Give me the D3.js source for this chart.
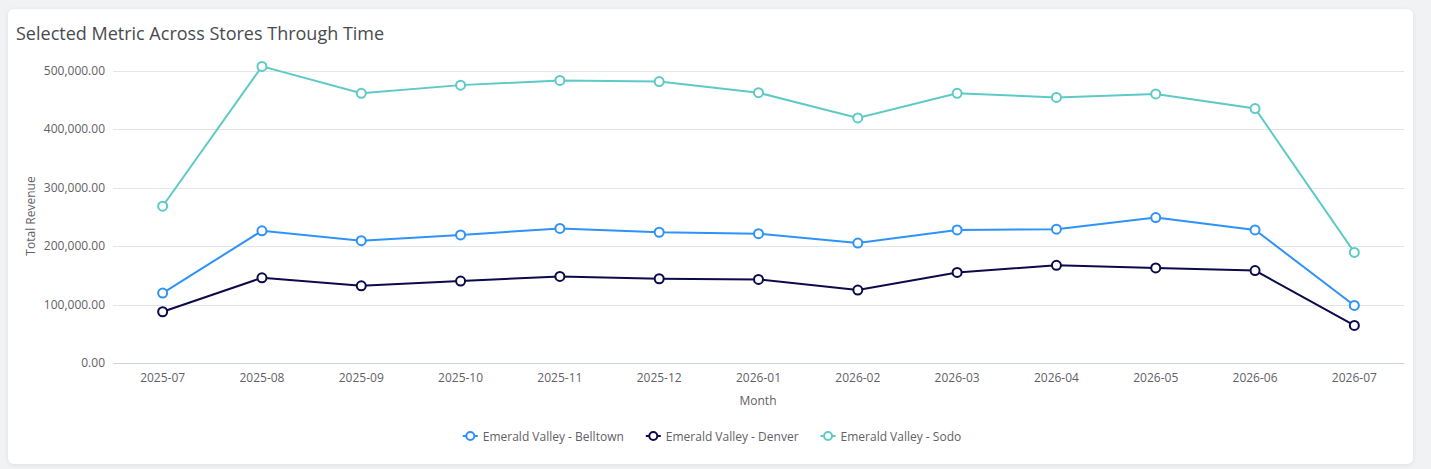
<!DOCTYPE html>
<html>
<head>
<meta charset="utf-8">
<script src="https://cdn.jsdelivr.net/npm/d3@7/dist/d3.min.js"></script>
<style>
  html, body { margin: 0; padding: 0; background: #f1f2f4; }
  svg { display: block; font-family: "Open Sans", sans-serif; }
</style>
</head>
<body>
<svg id="chart" width="1431" height="469"></svg>
<script>
const months = ["2025-07","2025-08","2025-09","2025-10","2025-11","2025-12","2026-01","2026-02","2026-03","2026-04","2026-05","2026-06","2026-07"];
const seriesNames = ["Emerald Valley - Belltown","Emerald Valley - Denver","Emerald Valley - Sodo"];
const belltown = [119500, 226000, 209000, 219000, 230000, 223500, 221000, 205000, 227500, 228700, 248600, 227500, 98400];
const denver   = [87600, 145600, 132000, 140000, 148000, 144000, 142800, 124600, 154800, 167000, 162600, 158000, 64300];
const sodo     = [268000, 507000, 461000, 475000, 483000, 481000, 462000, 419000, 461000, 454000, 460000, 435000, 189000];
const yTicks = [0, 100000, 200000, 300000, 400000, 500000];
const colors = ["#2e93f7", "#0b0a4a", "#5ecac6"];

const svg = d3.select("#chart");
const W = 1431, H = 469;

// card
svg.append("defs").append("filter").attr("id","sh").attr("x","-5%").attr("y","-5%").attr("width","110%").attr("height","110%")
  .append("feDropShadow").attr("dx",0).attr("dy",1).attr("stdDeviation",2).attr("flood-color","#000").attr("flood-opacity",0.08);
svg.append("rect").attr("x",8).attr("y",9).attr("width",1405).attr("height",455).attr("rx",6)
  .attr("fill","#fff").attr("filter","url(#sh)");

svg.append("text").attr("x",16).attr("y",40).attr("font-size",18).attr("fill","#474b50").text("Selected Metric Across Stores Through Time");

const x = d3.scaleBand().domain(months).range([113, 1404]);
const y = d3.scaleLinear().domain([0, 500000]).range([363, 70.5]);
const fmt = d3.format(",.2f");

// grid
svg.append("g").selectAll("line").data(yTicks.filter(d => d > 0)).join("line")
  .attr("x1",113).attr("x2",1404).attr("y1",d=>Math.round(y(d))+0.5).attr("y2",d=>Math.round(y(d))+0.5)
  .attr("stroke","#e3e5e8").attr("stroke-width",1);

// y axis
const yAxis = svg.append("g").attr("transform","translate(113,0)")
  .call(d3.axisLeft(y).tickValues(yTicks).tickFormat(fmt).tickSize(0).tickPadding(8));
yAxis.select(".domain").remove();
yAxis.selectAll("text").attr("font-size",12).attr("fill","#5f6166").attr("font-family","Open Sans, sans-serif");

// x axis
const xAxis = svg.append("g").attr("transform","translate(0,363)")
  .call(d3.axisBottom(x).tickSize(0).tickPadding(10));
xAxis.select(".domain").attr("stroke","#ccd2dc");
xAxis.selectAll("text").attr("font-size",12).attr("fill","#5f6166").attr("font-family","Open Sans, sans-serif");

svg.append("text").attr("x",758).attr("y",405).attr("text-anchor","middle").attr("font-size",12).attr("fill","#5f6166").text("Month");
svg.append("text").attr("transform","translate(35,216) rotate(-90)").attr("text-anchor","middle").attr("font-size",12).attr("fill","#5f6166").text("Total Revenue");

const all = [belltown, denver, sodo];
const cx = d => x(d) + x.bandwidth()/2;
const line = d3.line().x((d,i)=>cx(months[i])).y(d=>y(d));

all.forEach((vals, si) => {
  const g = svg.append("g");
  g.append("path").datum(vals).attr("d", line).attr("fill","none").attr("stroke",colors[si]).attr("stroke-width",2);
  g.selectAll("circle").data(vals).join("circle")
    .attr("cx",(d,i)=>cx(months[i])).attr("cy",d=>y(d)).attr("r",4.5)
    .attr("fill","#fff").attr("stroke",colors[si]).attr("stroke-width",2);
});

// legend
const leg = svg.append("g");
const items = [];
let cur = 0;
const symW = 15, gapSym = 5, gapItem = 22;
seriesNames.forEach((n, i) => {
  const gi = leg.append("g");
  gi.append("line").attr("x1",0).attr("x2",symW).attr("y1",0).attr("y2",0).attr("stroke",colors[i]).attr("stroke-width",2);
  gi.append("circle").attr("cx",symW/2).attr("cy",0).attr("r",4).attr("fill","#fff").attr("stroke",colors[i]).attr("stroke-width",2);
  const t = gi.append("text").attr("x",symW+gapSym).attr("y",4.5).attr("font-size",12).attr("fill","#5f6166").text(n);
  const w = symW + gapSym + t.node().getComputedTextLength();
  gi.attr("transform",`translate(${cur},436)`);
  cur += w + gapItem;
});
const total = cur - gapItem;
leg.attr("transform",`translate(${712 - total/2},0)`);
</script>
</body>
</html>
